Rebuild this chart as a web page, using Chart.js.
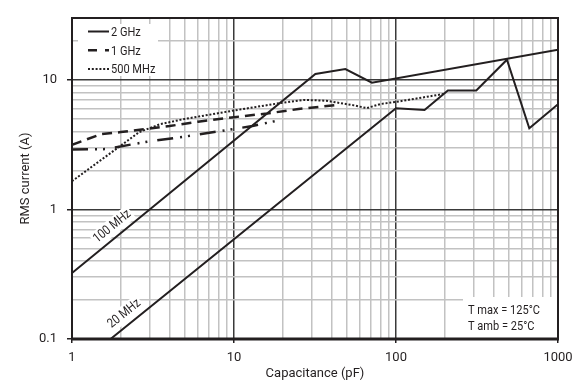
<!DOCTYPE html>
<html>
<head>
<meta charset="utf-8">
<script src="https://cdn.jsdelivr.net/npm/chart.js@4.4.1/dist/chart.umd.min.js"></script>
<style>
    html, body { margin: 0; padding: 0; background: #fff; }
</style>
</head>
<body>
<canvas id="rmsChart" width="572" height="385"></canvas>
<script>
const FONT = "'Liberation Sans Narrow', Roboto, sans-serif";
const INK = '#231f20';
const GRID_MINOR = '#c2c2c2';
const GRID_MAJOR = '#3a3a3a';
const SQUEEZE = 0.85; // fake a condensed face for the drawn-in text

// Axis ticks
const xTickValues = [1, 2, 3, 4, 5, 6, 7, 8, 9, 10, 20, 30, 40, 50, 60, 70, 80, 90,
    100, 200, 300, 400, 500, 600, 700, 800, 900, 1000];
const xTickLabels = [1, 10, 100, 1000];
const yTickValues = [0.1, 0.2, 0.3, 0.4, 0.5, 0.6, 0.7, 0.8, 0.9, 1, 2, 3, 4, 5, 6, 7, 8, 9, 10, 20, 30];
const yTickLabels = [0.1, 1, 10];

// Series (capacitance pF -> RMS current A)
const cap2G = [1, 1.6, 3, 5, 8, 13, 20];
const rms2G = [2.9, 2.92, 3.35, 3.65, 4.0, 4.4, 4.95];

const cap1G = [1, 1.5, 2, 4, 6, 10, 16, 25, 43];
const rms1G = [3.15, 3.8, 3.95, 4.4, 4.75, 5.15, 5.5, 5.95, 6.4];

const cap500M = [1, 2.6, 3.5, 5, 10, 19, 27, 37, 55, 66, 80, 100, 200];
const rms500M = [1.65, 3.95, 4.55, 5.0, 5.8, 6.6, 7.0, 6.9, 6.35, 6.05, 6.5, 6.75, 7.8];

const cap100M = [1, 31.8, 48.7, 71, 1000];
const rms100M = [0.323, 11.1, 12.1, 9.5, 17.1];

const cap20M = [1.73, 100, 150, 209, 313, 484, 665, 1000];
const rms20M = [0.1, 6.04, 5.86, 8.27, 8.27, 14.3, 4.23, 6.49];

const notes = ['T max = 125°C', 'T amb = 25°C'];

function toPoints(xs, ys) {
    return xs.map((x, i) => ({ x: x, y: ys[i] }));
}

function isLabelled(list, v) {
    return list.some(l => Math.abs(l - v) < 1e-9);
}

function squeezedText(ctx, text, x, y) {
    ctx.save();
    ctx.translate(x, y);
    ctx.scale(SQUEEZE, 1);
    ctx.fillText(text, 0, 0);
    ctx.restore();
}

// Legend entries drawn inside the plot (2 GHz sample is solid in the original)
const legendRows = [
    { text: '2 GHz', dash: [], width: 2 },
    { text: '1 GHz', dash: [9, 8], width: 2.5 },
    { text: '500 MHz', dash: [2, 1.8], width: 2 }
];

function drawLineLabel(chart, text, xs, ys, atX, lift) {
    const ctx = chart.ctx;
    const xS = chart.scales.x, yS = chart.scales.y;
    const x0 = xS.getPixelForValue(xs[0]), y0 = yS.getPixelForValue(ys[0]);
    const x1 = xS.getPixelForValue(xs[1]), y1 = yS.getPixelForValue(ys[1]);
    const ang = Math.atan2(y1 - y0, x1 - x0);
    const px = xS.getPixelForValue(atX);
    const py = y0 + (px - x0) * (y1 - y0) / (x1 - x0);
    const cx = px + lift * Math.sin(ang);
    const cy = py - lift * Math.cos(ang);

    ctx.save();
    ctx.translate(cx, cy);
    ctx.rotate(ang);
    ctx.scale(SQUEEZE, 1);
    ctx.font = '13px ' + FONT;
    const w = ctx.measureText(text).width;
    ctx.fillStyle = '#fff';
    ctx.fillRect(-w / 2 - 2, -8, w + 4, 16);
    ctx.fillStyle = INK;
    ctx.textAlign = 'center';
    ctx.textBaseline = 'middle';
    ctx.fillText(text, 0, 0);
    ctx.restore();
}

const overlayPlugin = {
    id: 'overlay',
    beforeDatasetsDraw(chart) {
        const { ctx, chartArea: a } = chart;
        ctx.save();
        ctx.fillStyle = '#fff';
        // legend background
        ctx.fillRect(a.left + 6, a.top + 6, 80, 52);
        // note background
        ctx.fillRect(a.right - 95, a.bottom - 42, 95, 42);
        ctx.restore();
    },
    afterDatasetsDraw(chart) {
        const { ctx, chartArea: a } = chart;

        // legend
        ctx.save();
        ctx.font = '13px ' + FONT;
        ctx.textBaseline = 'middle';
        ctx.fillStyle = INK;
        legendRows.forEach((row, i) => {
            const y = a.top + 13.5 + i * 18.8;
            ctx.strokeStyle = INK;
            ctx.lineWidth = row.width;
            ctx.setLineDash(row.dash);
            ctx.beginPath();
            ctx.moveTo(a.left + 16, y);
            ctx.lineTo(a.left + 37, y);
            ctx.stroke();
            squeezedText(ctx, row.text, a.left + 39, y + 1);
        });
        ctx.restore();

        // temperature notes
        ctx.save();
        ctx.font = '13px ' + FONT;
        ctx.textBaseline = 'middle';
        ctx.fillStyle = INK;
        squeezedText(ctx, notes[0], a.right - 90, a.bottom - 28.5);
        squeezedText(ctx, notes[1], a.right - 90, a.bottom - 12);
        ctx.restore();

        // labels on the solid curves
        drawLineLabel(chart, '100 MHz', cap100M, rms100M, 1.95, 10.5);
        drawLineLabel(chart, '20 MHz', cap20M, rms20M, 2.32, 11);

        // frame
        ctx.save();
        ctx.strokeStyle = INK;
        ctx.lineWidth = 2;
        ctx.strokeRect(a.left, a.top, a.right - a.left, a.bottom - a.top);
        ctx.lineWidth = 3;
        ctx.beginPath();
        ctx.moveTo(a.left - 1, a.bottom);
        ctx.lineTo(a.right + 1, a.bottom);
        ctx.stroke();
        ctx.restore();
    }
};

const lineBase = {
    borderColor: INK,
    backgroundColor: INK,
    pointRadius: 0,
    tension: 0,
    fill: false,
    borderCapStyle: 'butt',
    borderJoinStyle: 'miter'
};

new Chart(document.getElementById('rmsChart'), {
    type: 'line',
    data: {
        datasets: [
            Object.assign({ label: '2 GHz', data: toPoints(cap2G, rms2G), borderWidth: 2.5, borderDash: [16, 7, 2, 6, 2, 10] }, lineBase),
            Object.assign({ label: '1 GHz', data: toPoints(cap1G, rms1G), borderWidth: 2.5, borderDash: [10, 6] }, lineBase),
            Object.assign({ label: '500 MHz', data: toPoints(cap500M, rms500M), borderWidth: 2, borderDash: [2, 1.8] }, lineBase),
            Object.assign({ label: '100 MHz', data: toPoints(cap100M, rms100M), borderWidth: 2 }, lineBase),
            Object.assign({ label: '20 MHz', data: toPoints(cap20M, rms20M), borderWidth: 2 }, lineBase)
        ]
    },
    options: {
        responsive: false,
        animation: false,
        layout: { padding: { top: 18, right: 14, left: 0, bottom: 0 } },
        plugins: {
            legend: { display: false },
            tooltip: { enabled: false }
        },
        scales: {
            x: {
                type: 'logarithmic',
                min: 1,
                max: 1000,
                afterBuildTicks: scale => {
                    scale.ticks = xTickValues.map(v => ({ value: v }));
                },
                afterFit: scale => {
                    scale.height = 46;
                    // let the "1000" label hang past the plot edge like the original
                    scale.paddingLeft = 0;
                    scale.paddingRight = 0;
                },
                ticks: {
                    autoSkip: false,
                    maxRotation: 0,
                    padding: 7,
                    color: INK,
                    font: { family: FONT, size: 13 },
                    callback: v => isLabelled(xTickLabels, v) ? String(v) : ''
                },
                grid: {
                    tickLength: 4,
                    color: c => isLabelled(xTickLabels, c.tick.value) ? GRID_MAJOR : GRID_MINOR,
                    tickColor: c => isLabelled(xTickLabels, c.tick.value) ? INK : 'rgba(0,0,0,0)',
                    lineWidth: 1.5,
                    tickWidth: 1.5
                },
                border: { display: false },
                title: {
                    display: true,
                    text: 'Capacitance (pF)',
                    color: INK,
                    font: { family: FONT, size: 13 },
                    padding: { top: 0, bottom: 3 }
                }
            },
            y: {
                type: 'logarithmic',
                min: 0.1,
                max: 30,
                afterBuildTicks: scale => {
                    scale.ticks = yTickValues.map(v => ({ value: v }));
                },
                afterFit: scale => {
                    scale.width = 72;
                    scale.paddingTop = 0;
                    scale.paddingBottom = 0;
                },
                ticks: {
                    autoSkip: false,
                    padding: 10,
                    color: INK,
                    font: { family: FONT, size: 13 },
                    callback: v => isLabelled(yTickLabels, v) ? String(v) : ''
                },
                grid: {
                    tickLength: 5,
                    color: c => isLabelled(yTickLabels, c.tick.value) ? GRID_MAJOR : GRID_MINOR,
                    tickColor: c => isLabelled(yTickLabels, c.tick.value) ? INK : 'rgba(0,0,0,0)',
                    lineWidth: 1.5,
                    tickWidth: 1.5
                },
                border: { display: false },
                title: {
                    display: true,
                    text: 'RMS current (A)',
                    color: INK,
                    font: { family: FONT, size: 13 },
                    padding: { top: 18, bottom: 0 }
                }
            }
        }
    },
    plugins: [overlayPlugin]
});
</script>
</body>
</html>
